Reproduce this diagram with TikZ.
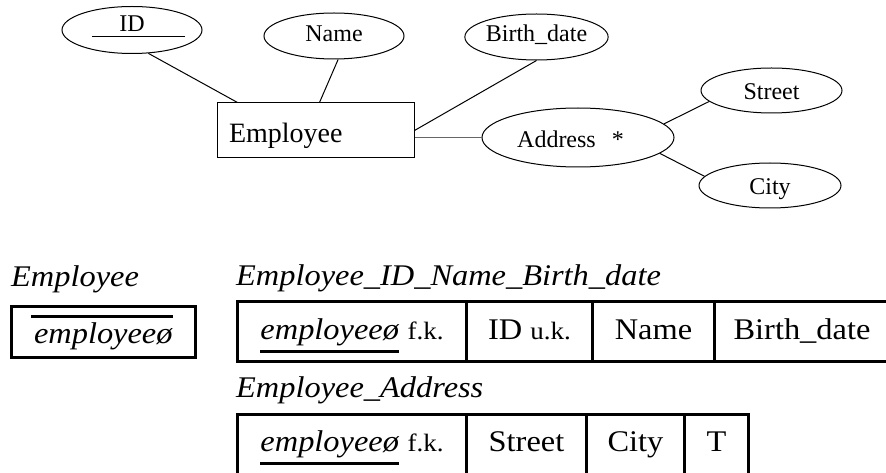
\documentclass[tikz,border=0pt]{standalone}
\usepackage{fontspec}
\setmainfont{Liberation Serif}
\newfontfamily\widefont{Liberation Serif}[FakeStretch=1.08]
\usetikzlibrary{shapes.geometric,calc}

% key markers: a rule under (foreign key) or over (primary key) the text
\newlength\markw
\newcommand\keyunder[1]{\settowidth\markw{#1}\rlap{\rule[-13.5pt]{\markw}{3pt}}#1}
\newcommand\keyover[1]{\settowidth\markw{#1}\rlap{\hspace{-3pt}\rule[25.5pt]{\dimexpr\markw+3pt\relax}{3pt}}#1}
\newcommand\keytag[1]{{\fontsize{25}{29}\selectfont #1}}

\begin{document}
\begin{tikzpicture}[x=1pt,y=-1pt,
  attr/.style={ellipse, draw, line width=1pt, inner sep=0pt,
    font=\fontsize{24}{28}\selectfont},
  entity/.style={rectangle, draw, line width=1pt, inner xsep=12pt, inner ysep=0pt,
    align=left, font=\fontsize{28}{32}\selectfont},
  link/.style={line width=1pt},
  cell/.style={rectangle, draw, line width=3pt, inner sep=0pt, anchor=north west,
    font=\widefont\fontsize{30}{34}\selectfont, text height=20pt, text depth=4pt},
  title/.style={anchor=base west, inner sep=0pt,
    font=\widefont\itshape\fontsize{30}{34}\selectfont}]
\useasboundingbox (0,0) rectangle (886,473);

% ---- ER diagram ----
\node[entity, minimum width=197pt, minimum height=55pt, text width=173pt,
  text height=25pt, text depth=0pt] (emp) at (315.5,130.5) {Employee};
\node[attr, minimum width=140pt, minimum height=47pt, text height=16pt, text depth=12pt]
  (id) at (132,30) {ID};
\node[attr, minimum width=140pt, minimum height=46pt, text height=16pt, text depth=4pt]
  (name) at (334,36) {Name};
\node[attr, minimum width=141pt, minimum height=46pt, text height=16pt, text depth=6pt]
  (bdate) at (536.5,37) {Birth\_date};
\node[attr, minimum width=192pt, minimum height=59pt, text height=21pt, text depth=0pt]
  (addr) at (578,137.5) {Address\hspace{16pt}*\kern15pt};
\node[attr, minimum width=141pt, minimum height=45pt, text height=19pt, text depth=0pt]
  (street) at (771.5,90.5) {Street};
\node[attr, minimum width=142pt, minimum height=45pt, text height=19pt, text depth=0pt]
  (city) at (770,185.5) {City};

% key underline of ID
\draw[link] ($(id.center)+(-40,7)$) -- ($(id.center)+(53,7)$);

\draw[link] (id.-55) -- ($(emp.north west)+(21,0)$);
\draw[link] (name.-80) -- ($(emp.north)+(4,0)$);
\draw[link] (bdate.south) -- (emp.east);
\draw[link, black!60, line width=1.3pt] (addr.west) -- (addr.west -| emp.east);
\draw[link] (addr.9) -- (street.190);
\draw[link] (addr.-11) -- (city.172);

% ---- relational tables ----
\node[title] (lblEmp) at (11,286) {Employee};
\node[cell, minimum width=184pt, minimum height=51pt, text height=27pt, text depth=4pt]
  (ebox) at (10,305) {\keyover{\textit{employeeø}}};

\node[title] (lblT1) at (236,285) {Employee\_ID\_Name\_Birth\_date};
\node[cell, minimum width=229pt, minimum height=60pt] (t1a) at (236,300)
  {\keyunder{\textit{employeeø}} \keytag{f.k.}};
\node[cell, minimum width=126pt, minimum height=60pt] (t1b) at (465,300)
  {ID \keytag{u.k.}};
\node[cell, minimum width=122pt, minimum height=60pt] (t1c) at (591,300) {Name};
\node[cell, minimum width=175pt, minimum height=60pt] (t1d) at (713,300) {Birth\_date};

\node[title] (lblT2) at (236,397) {Employee\_Address};
\node[cell, minimum width=229pt, minimum height=64pt, text depth=10pt] (t2a) at (236,413)
  {\keyunder{\textit{employeeø}} \keytag{f.k.}};
\node[cell, minimum width=120pt, minimum height=64pt, text depth=10pt] (t2b) at (465,413) {Street};
\node[cell, minimum width=98pt, minimum height=64pt, text depth=10pt] (t2c) at (585,413) {City};
\node[cell, minimum width=64pt, minimum height=64pt, text depth=10pt] (t2d) at (683,413) {T};
\end{tikzpicture}
\end{document}
